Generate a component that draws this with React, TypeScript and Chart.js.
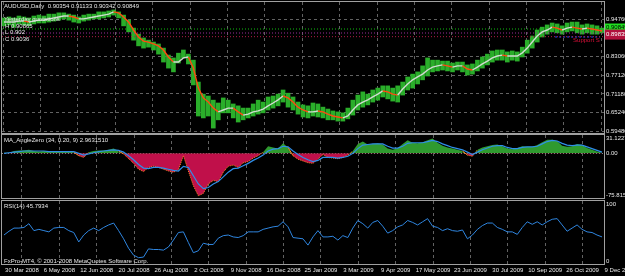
import React, { useEffect, useRef } from "react";
import { Chart, registerables } from "chart.js";
Chart.register(...registerables);

// ---------- data ----------
const DATE_LABELS = [
  "30 Mar 2008", "6 May 2008", "12 Jun 2008", "20 Jul 2008", "26 Aug 2008", "2 Oct 2008",
  "9 Nov 2008", "16 Dec 2008", "25 Jan 2009", "3 Mar 2009", "9 Apr 2009", "17 May 2009",
  "23 Jun 2009", "30 Jul 2009", "10 Sep 2009", "26 Oct 2009", "9 Dec 2009",
];
const PRICE_TICKS = [0.9476, 0.8306, 0.7712, 0.7118, 0.6524, 0.5948];

const PRICE_HIGH = [
  0.951, 0.954, 0.951, 0.957, 0.954, 0.951, 0.957, 0.960, 0.957, 0.963,
  0.963, 0.967, 0.967, 0.963, 0.960, 0.954, 0.960, 0.963, 0.963, 0.970,
  0.970, 0.973, 0.976, 0.970, 0.960, 0.944, 0.919, 0.900, 0.888, 0.881,
  0.875, 0.869, 0.856, 0.834, 0.825, 0.840, 0.850, 0.837, 0.818, 0.749,
  0.711, 0.705, 0.692, 0.683, 0.699, 0.692, 0.680, 0.674, 0.667, 0.667,
  0.680, 0.692, 0.686, 0.702, 0.705, 0.711, 0.724, 0.714, 0.702, 0.686,
  0.677, 0.674, 0.683, 0.680, 0.670, 0.664, 0.658, 0.655, 0.652, 0.667,
  0.692, 0.708, 0.718, 0.711, 0.724, 0.730, 0.737, 0.737, 0.730, 0.737,
  0.749, 0.765, 0.774, 0.781, 0.800, 0.825, 0.818, 0.818, 0.815, 0.815,
  0.809, 0.812, 0.812, 0.803, 0.806, 0.818, 0.828, 0.837, 0.847, 0.850,
  0.850, 0.844, 0.847, 0.844, 0.859, 0.881, 0.894, 0.913, 0.922, 0.929,
  0.935, 0.932, 0.926, 0.935, 0.938, 0.938, 0.929, 0.932, 0.929, 0.926,
  0.919,
];
const PRICE_LOW = [
  0.926, 0.929, 0.922, 0.932, 0.929, 0.926, 0.932, 0.935, 0.935, 0.938,
  0.941, 0.944, 0.948, 0.944, 0.938, 0.935, 0.941, 0.944, 0.948, 0.948,
  0.951, 0.954, 0.960, 0.951, 0.926, 0.907, 0.881, 0.863, 0.856, 0.859,
  0.850, 0.837, 0.812, 0.793, 0.781, 0.809, 0.825, 0.806, 0.740, 0.642,
  0.636, 0.642, 0.604, 0.630, 0.652, 0.652, 0.636, 0.623, 0.630, 0.636,
  0.642, 0.648, 0.652, 0.661, 0.667, 0.674, 0.686, 0.670, 0.661, 0.648,
  0.639, 0.636, 0.642, 0.639, 0.636, 0.630, 0.630, 0.626, 0.626, 0.633,
  0.645, 0.661, 0.670, 0.677, 0.686, 0.692, 0.702, 0.696, 0.689, 0.686,
  0.708, 0.724, 0.730, 0.743, 0.756, 0.768, 0.781, 0.784, 0.787, 0.784,
  0.781, 0.787, 0.781, 0.771, 0.774, 0.784, 0.793, 0.803, 0.812, 0.818,
  0.818, 0.812, 0.818, 0.815, 0.828, 0.840, 0.856, 0.875, 0.891, 0.900,
  0.907, 0.904, 0.900, 0.907, 0.910, 0.904, 0.900, 0.904, 0.900, 0.900,
  0.904,
];
const MA_VALUES = [
  0.938, 0.938, 0.938, 0.941, 0.941, 0.938, 0.941, 0.944, 0.944, 0.948,
  0.951, 0.954, 0.957, 0.957, 0.954, 0.948, 0.948, 0.951, 0.954, 0.957,
  0.960, 0.963, 0.970, 0.967, 0.954, 0.938, 0.913, 0.891, 0.878, 0.875,
  0.869, 0.863, 0.850, 0.828, 0.812, 0.812, 0.825, 0.828, 0.793, 0.730,
  0.699, 0.686, 0.667, 0.655, 0.661, 0.667, 0.667, 0.655, 0.645, 0.648,
  0.655, 0.658, 0.664, 0.674, 0.683, 0.693, 0.705, 0.699, 0.686, 0.670,
  0.661, 0.655, 0.655, 0.658, 0.655, 0.648, 0.642, 0.639, 0.636, 0.642,
  0.661, 0.677, 0.686, 0.693, 0.702, 0.711, 0.721, 0.718, 0.711, 0.708,
  0.727, 0.743, 0.756, 0.765, 0.774, 0.787, 0.796, 0.800, 0.803, 0.800,
  0.796, 0.800, 0.800, 0.790, 0.787, 0.796, 0.806, 0.815, 0.825, 0.831,
  0.834, 0.831, 0.831, 0.831, 0.841, 0.856, 0.875, 0.894, 0.907, 0.913,
  0.922, 0.919, 0.913, 0.919, 0.922, 0.919, 0.916, 0.919, 0.916, 0.913,
  0.910,
];
const ANGLE = [
  1, 1, 4, 5, 5, 6, 4, 3, 4, 3,
  4, 3, 3, 3, 2, -4, -7, 2, 4, 5,
  5, 6, 8, 4, -1, -9, -17, -27, -31, -24,
  -22, -24, -27, -30, -32, -28, -4, -30, -55, -72,
  -68, -52, -46, -48, -32, -22, -20, -24, -16, -14,
  -8, -4, 2, 12, 10, 8, 17, 10, -4, -10,
  -13, -16, -17, -10, -2, -7, -8, -9, -7, -3,
  4, 16, 20, 15, 16, 17, 15, 8, 6, 9,
  16, 22, 18, 17, 19, 22, 25, 18, 13, 10,
  8, 6, 4, -3, -5, 6, 10, 12, 14, 15,
  12, 8, 7, 9, 12, 11, 11, 14, 19, 23,
  23, 21, 13, 11, 12, 16, 14, 9, 6, 3,
  1,
];
const SIGNAL = [
  0, 1, 2, 3, 4, 4, 4, 4, 4, 3,
  3, 3, 3, 3, 3, 0, -3, -1, 1, 3,
  4, 5, 6, 5, 2, -4, -11, -19, -25, -26,
  -24, -24, -25, -27, -29, -30, -22, -24, -38, -52,
  -60, -58, -52, -48, -40, -32, -26, -25, -21, -17,
  -12, -8, -3, 4, 7, 8, 12, 11, 4, -2,
  -7, -11, -14, -12, -7, -7, -7, -8, -7, -5,
  0, 8, 14, 15, 16, 16, 16, 12, 9, 9,
  12, 17, 18, 18, 18, 20, 22, 20, 16, 13,
  10, 8, 6, 2, -2, 2, 6, 9, 12, 13,
  13, 10, 8, 8, 10, 11, 11, 12, 16, 20,
  22, 21, 17, 14, 13, 14, 14, 11, 8, 5,
  2,
];
const RSI = [
  46, 52, 57, 57, 58, 64, 53, 55, 53, 51,
  57, 58, 58, 53, 50, 35, 46, 53, 57, 53,
  58, 62, 65, 53, 40, 25, 14, 10, 11, 24,
  23, 23, 22, 27, 38, 50, 51, 34, 18, 21,
  33, 31, 31, 41, 45, 46, 43, 42, 45, 51,
  51, 51, 55, 57, 59, 60, 67, 59, 42, 41,
  40, 30, 43, 53, 43, 43, 44, 38, 45, 42,
  57, 69, 64, 57, 66, 69, 60, 49, 53, 59,
  62, 69, 66, 62, 67, 72, 60, 58, 53, 56,
  53, 52, 54, 40, 46, 55, 61, 65, 65, 58,
  55, 51, 51, 47, 58, 67, 63, 67, 62, 67,
  71, 72, 62, 52, 57, 62, 55, 51, 50, 46,
  43,
];
const LEVEL_VALUES = [0.9161, 0.9035, 0.892];
const LEVEL_COLORS = ["#10c010", "#9a2a9a", "#b01c48"];
const SUPPORT_VALUE = 0.891;
const PRICE_MIN = 0.5885, PRICE_MAX = 1.0012;
const ANGLE_MIN = -75.8157, ANGLE_MAX = 31.1227;

// ---------- style ----------
const FONT_FAMILY = '"Liberation Sans", Arial, sans-serif';
const FONT = { family: FONT_FAMILY, size: 6 };
const FONT_CSS = `6px ${FONT_FAMILY}`;
const TEXT = "#e8e8e8";
const GRID = "#626262";
const FRAME = "#a0a0a0";
const X_MIN = -0.4, X_MAX = 120.4;
const DATE_START = 3.6, DATE_STEP = 7.5;
const DATE_POS = DATE_LABELS.map((_, k) => DATE_START + k * DATE_STEP);

const noPad = (s: any) => { s.paddingTop = 0; s.paddingBottom = 0; s.paddingLeft = 0; s.paddingRight = 0; };

function xAxis(showLabels: boolean) {
  return {
    type: "linear", min: X_MIN, max: X_MAX, offset: false,
    afterBuildTicks: (s: any) => { s.ticks = DATE_POS.filter((v) => v <= X_MAX).map((v) => ({ value: v })); },
    afterFit: (s: any) => { s.height = showLabels ? 12 : 0; noPad(s); },
    ticks: {
      display: showLabels, autoSkip: false, maxRotation: 0, minRotation: 0, padding: 3,
      color: TEXT, font: FONT, callback: (_v: any, i: number) => DATE_LABELS[i],
    },
    grid: { color: GRID, drawTicks: false, lineWidth: 1 },
    border: { display: false, dash: [3, 3] },
  };
}

function framePlugin(extra?: (chart: any) => void) {
  return {
    id: "frameAndText",
    afterDraw(chart: any) {
      const { ctx, chartArea: a } = chart;
      ctx.save();
      ctx.strokeStyle = FRAME;
      ctx.lineWidth = 1;
      ctx.strokeRect(Math.round(a.left) - 0.5, Math.round(a.top) - 0.5, Math.round(a.right - a.left) + 1, Math.round(a.bottom - a.top) + 1);
      ctx.font = FONT_CSS;
      ctx.fillStyle = TEXT;
      ctx.textBaseline = "middle";
      if (extra) extra(chart);
      ctx.restore();
    },
  };
}

const baseOpts = {
  responsive: false, animation: false, maintainAspectRatio: false,
  plugins: { legend: { display: false }, tooltip: { enabled: false } },
};

function priceConfig(): any {
  const levelSets = LEVEL_VALUES.map((v, k) => ({
    type: "line", data: [{ x: X_MIN, y: v }, { x: X_MAX, y: v }],
    borderColor: LEVEL_COLORS[k], borderWidth: 1, borderDash: [1, 2], pointRadius: 0, order: 1,
  }));
  return {
    type: "bar",
    data: {
      datasets: [
        {
          type: "line", label: "MA", data: MA_VALUES.map((y, i) => ({ x: i, y })),
          borderWidth: 1.4, pointRadius: 0, borderColor: "#d0dcd0",
          segment: { borderColor: (c: any) => (c.p1.parsed.y < c.p0.parsed.y ? "#ff4a10" : "#d0dcd0") },
          order: 0,
        },
        ...levelSets,
        {
          type: "line", data: [{ x: 110.6, y: SUPPORT_VALUE }, { x: 119.6, y: SUPPORT_VALUE }],
          borderColor: "#3050ff", borderWidth: 1, borderDash: [2, 2], pointRadius: 0, order: 1,
        },
        {
          type: "bar", label: "AUDUSD",
          data: PRICE_HIGH.map((h, i) => ({ x: i, y: [PRICE_LOW[i], h] })),
          backgroundColor: "#2aae2a", barThickness: 4, order: 2,
        },
      ],
    },
    options: {
      ...baseOpts,
      layout: { padding: { left: 2, top: 2, right: 0, bottom: 1 } },
      scales: {
        x: xAxis(false),
        y: {
          type: "linear", position: "right", min: PRICE_MIN, max: PRICE_MAX,
          afterBuildTicks: (s: any) => { s.ticks = PRICE_TICKS.map((v) => ({ value: v })); },
          afterFit: (s: any) => { s.width = 21; noPad(s); },
          ticks: { color: TEXT, font: FONT, padding: 2, callback: (v: any) => Number(v).toFixed(5) },
          grid: { color: GRID, drawTicks: false },
          border: { display: false, dash: [3, 3] },
        },
      },
    },
    plugins: [
      framePlugin((chart) => {
        const { ctx, scales } = chart;
        ctx.fillText("AUDUSD,Daily  0.90354 0.91133 0.90342 0.90849", 4, 6);
        ctx.fillText("Yesterday quotations", 4, 19);
        ctx.fillText("H 0.90865", 5, 26);
        ctx.fillText("L 0.902", 5, 32.5);
        ctx.fillText("C 0.9036", 5, 39);
        const right = chart.chartArea.right;
        const yG = scales.y.getPixelForValue(0.9224);
        ctx.fillStyle = "#20e020";
        ctx.fillRect(right + 1, yG - 3.5, 24, 7);
        ctx.fillStyle = "#000";
        ctx.fillText("0.90849", right + 2, yG);
        const yR = scales.y.getPixelForValue(0.8985);
        ctx.fillStyle = "#b0103c";
        ctx.fillRect(right + 1, yR - 5, 24, 10);
        ctx.fillStyle = "#ffffff";
        ctx.fillText("0.89835", right + 2, yR);
        ctx.fillStyle = "#e0103a";
        ctx.fillText("Support S", scales.x.getPixelForValue(114.2), scales.y.getPixelForValue(0.8815));
      }),
    ],
  };
}

function angleConfig(): any {
  return {
    type: "line",
    data: {
      datasets: [
        {
          label: "Signal", data: SIGNAL.map((y, i) => ({ x: i, y })),
          borderColor: "#2f8ee8", borderWidth: 1.2, pointRadius: 0, fill: false, order: 0,
        },
        {
          label: "MA_AngleZero", data: ANGLE.map((y, i) => ({ x: i, y })),
          borderWidth: 1, pointRadius: 0, borderColor: "rgba(0,0,0,0)",
          segment: {
            borderColor: (c: any) => (c.p0.parsed.y < 0 || c.p1.parsed.y < 0 ? "#ff8a20" : "rgba(0,0,0,0)"),
            borderDash: (c: any) => (c.p0.parsed.y < 0 ? [1, 1] : undefined),
          },
          fill: { target: { value: 0 }, above: "#2f9a2f", below: "#c0104a" },
          order: 1,
        },
      ],
    },
    options: {
      ...baseOpts,
      layout: { padding: { left: 2, top: 1, right: 0, bottom: 1 } },
      scales: {
        x: xAxis(false),
        y: {
          type: "linear", position: "right", min: ANGLE_MIN, max: ANGLE_MAX,
          afterBuildTicks: (s: any) => { s.ticks = [{ value: 0 }]; },
          afterFit: (s: any) => { s.width = 21; noPad(s); },
          ticks: { color: TEXT, font: FONT, padding: 2, callback: () => "0.00" },
          grid: { color: "#8a8a8a", drawTicks: false },
          border: { display: false, dash: [1, 2] },
        },
      },
    },
    plugins: [
      framePlugin((chart) => {
        const { ctx, chartArea: a } = chart;
        ctx.fillText("MA_AngleZero (34, 0.20, 9) 2.9631510", 4, 6);
        ctx.fillText(ANGLE_MAX.toFixed(4), a.right + 2, a.top + 3.5);
        ctx.fillText(ANGLE_MIN.toFixed(4), a.right + 2, a.bottom - 3);
      }),
    ],
  };
}

function rsiConfig(): any {
  return {
    type: "line",
    data: {
      datasets: [
        {
          label: "RSI(14)", data: RSI.map((y, i) => ({ x: i, y })),
          borderColor: "#2f86e0", borderWidth: 1, pointRadius: 0, fill: false,
        },
      ],
    },
    options: {
      ...baseOpts,
      layout: { padding: { left: 2, top: 2, right: 0, bottom: 0 } },
      scales: {
        x: xAxis(true),
        y: {
          type: "linear", position: "right", min: 0, max: 100,
          afterBuildTicks: (s: any) => { s.ticks = []; },
          afterFit: (s: any) => { s.width = 21; noPad(s); },
          ticks: { display: false },
          grid: { display: false },
          border: { display: false },
        },
      },
    },
    plugins: [
      framePlugin((chart) => {
        const { ctx, chartArea: a, scales } = chart;
        ctx.fillText("RSI(14) 45.7934", 4, 7);
        ctx.fillText("FxPro-MT4, \u00a9 2001-2008 MetaQuotes Software Corp.", 4, 62);
        ctx.fillText("100", a.right + 2, a.top + 3.5);
        ctx.fillText("0", a.right + 2, a.bottom - 2.5);
        ctx.textAlign = "center";
        const last = DATE_POS.length - 1;
        ctx.fillText(DATE_LABELS[last], scales.x.getPixelForValue(DATE_POS[last]), a.bottom + 6);
      }),
    ],
  };
}

export default function App() {
  const r1 = useRef<HTMLCanvasElement>(null);
  const r2 = useRef<HTMLCanvasElement>(null);
  const r3 = useRef<HTMLCanvasElement>(null);
  useEffect(() => {
    document.body.style.margin = "0";
    document.body.style.background = "#000";
    const charts = [
      new Chart(r1.current!, priceConfig()),
      new Chart(r2.current!, angleConfig()),
      new Chart(r3.current!, rsiConfig()),
    ];
    return () => charts.forEach((c) => c.destroy());
  }, []);
  return (
    <div style={{ position: "fixed", left: 0, top: 0, width: 625, height: 276, background: "#000", overflow: "hidden" }}>
      <canvas ref={r1} width={625} height={134} style={{ position: "absolute", left: 0, top: 0 }} />
      <canvas ref={r2} width={625} height={65} style={{ position: "absolute", left: 0, top: 134 }} />
      <canvas ref={r3} width={625} height={77} style={{ position: "absolute", left: 0, top: 199 }} />
    </div>
  );
}
